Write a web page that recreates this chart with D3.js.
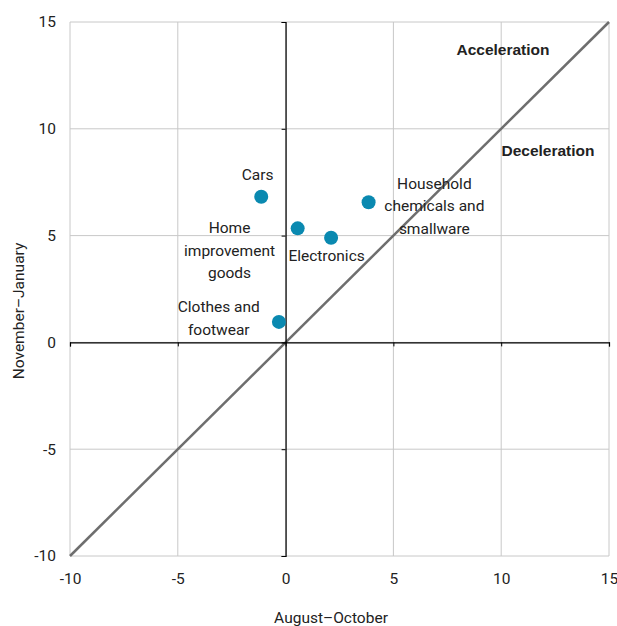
<!DOCTYPE html>
<html><head><meta charset="utf-8">
<script src="https://cdn.jsdelivr.net/npm/d3@7"></script>
<style>
body{margin:0;background:#fff}
svg text{font-family:"Roboto",sans-serif;fill:#222}
</style></head><body>
<svg id="c" width="617" height="626"></svg>
<script>
const names = ["Cars","Home improvement goods","Electronics","Household chemicals and smallware","Clothes and footwear"];
const xValues = [-1.13, 0.56, 2.11, 3.85, -0.31];
const yValues = [6.82, 5.34, 4.90, 6.56, 0.96];
const labelLines = [["Cars"],["Home","improvement","goods"],["Electronics"],["Household","chemicals and","smallware"],["Clothes and","footwear"]];
// label anchor in data units (center x, first baseline y)
const labelX = [-1.3, -2.6, 1.9, 6.9, -3.1];
const labelY = [7.6, 5.1, 3.8, 7.2, 1.4];
const ticks = [-10,-5,0,5,10,15];
const regionText = ["Acceleration","Deceleration"];

const svg = d3.select("#c");
const L=70,R=609,T=22,B=556;
const x = d3.scaleLinear().domain([-10,15]).range([L,R]);
const y = d3.scaleLinear().domain([-10,15]).range([B,T]);
const fmt = d => String(d);

// grid
const g = svg.append("g");
ticks.forEach(t=>{
  g.append("line").attr("x1",x(t)).attr("x2",x(t)).attr("y1",T).attr("y2",B).attr("stroke","#c8c8c8").attr("stroke-width",1);
  g.append("line").attr("x1",L).attr("x2",R).attr("y1",y(t)).attr("y2",y(t)).attr("stroke","#c8c8c8").attr("stroke-width",1);
});

// diagonal
svg.append("line").attr("x1",x(-10)).attr("y1",y(-10)).attr("x2",x(15)).attr("y2",y(15))
  .attr("stroke","#6e6e6e").attr("stroke-width",2.5);

// axes through zero
const xa = svg.append("g").attr("transform",`translate(0,${y(0)})`)
  .call(d3.axisBottom(x).tickValues(ticks).tickSize(4).tickFormat(""));
const ya = svg.append("g").attr("transform",`translate(${x(0)},0)`)
  .call(d3.axisLeft(y).tickValues(ticks).tickSize(4).tickFormat(""));
[xa,ya].forEach(a=>{a.selectAll("path").attr("stroke","#000").attr("stroke-width",1.2);a.selectAll("line").attr("stroke","#000");});

// tick labels
const xl = svg.append("g").attr("transform",`translate(0,${B})`)
  .call(d3.axisBottom(x).tickValues(ticks).tickSize(0).tickPadding(17).tickFormat(fmt));
xl.select(".domain").remove();
xl.selectAll("text").attr("font-size",15.5).attr("fill","#222").style("font-family",'"Roboto",sans-serif');
const yl = svg.append("g").attr("transform",`translate(${L},0)`)
  .call(d3.axisLeft(y).tickValues(ticks).tickSize(0).tickPadding(14).tickFormat(fmt));
yl.select(".domain").remove();
yl.selectAll("text").attr("font-size",15.5).attr("fill","#222").style("font-family",'"Roboto",sans-serif');

// points
svg.append("g").selectAll("circle").data(names).join("circle")
  .attr("cx",(d,i)=>x(xValues[i])).attr("cy",(d,i)=>y(yValues[i])).attr("r",7).attr("fill","#0a89b0");

// labels
names.forEach((n,i)=>{
  const t = svg.append("text").attr("text-anchor","middle").attr("font-size",15.5)
    .attr("x",x(labelX[i])).attr("y",y(labelY[i]));
  labelLines[i].forEach((ln,j)=>t.append("tspan").attr("x",x(labelX[i])).attr("dy",j?22.5:0).text(ln));
});

// region text
svg.append("text").attr("x",503).attr("y",55).attr("text-anchor","middle").attr("font-weight","bold").attr("font-size",15.5)
  .style("font-family","Liberation Sans, Arial, sans-serif").text(regionText[0]);
svg.append("text").attr("x",548).attr("y",156).attr("text-anchor","middle").attr("font-weight","bold").attr("font-size",15.5)
  .style("font-family","Liberation Sans, Arial, sans-serif").text(regionText[1]);

// axis titles
svg.append("text").attr("x",331).attr("y",623).attr("text-anchor","middle").attr("font-size",15.5).text("August–October");
svg.append("text").attr("transform","translate(24,311) rotate(-90)").attr("text-anchor","middle").attr("font-size",15.5).text("November–January");
</script></body></html>
